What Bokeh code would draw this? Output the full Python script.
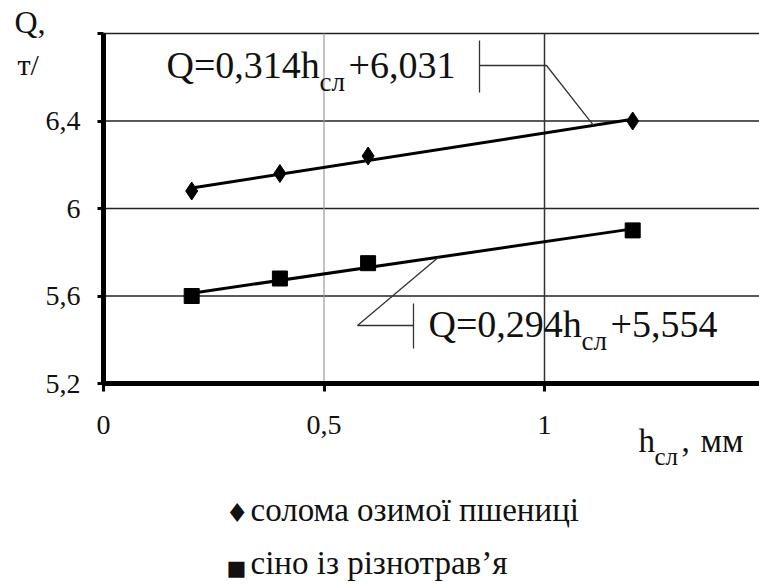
from bokeh.plotting import figure
from bokeh.models import Label, FixedTicker, Range1d
from bokeh.embed import file_html
from bokeh.resources import INLINE

# ---- data ----
h_values = [0.2, 0.4, 0.6, 1.2]
wheat_q = [6.08, 6.16, 6.24, 6.40]
hay_q = [5.60, 5.68, 5.75, 5.90]
wheat_fit = (0.314, 6.031)
hay_fit = (0.294, 5.554)
fit_span = [0.2, 1.2]
x_ticks = [0, 0.5, 1]
x_tick_labels = ["0", "0,5", "1"]
y_ticks = [5.2, 5.6, 6.0, 6.4, 6.8]
y_tick_labels = ["5,2", "5,6", "6", "6,4", ""]
h_grid = [5.6, 6.0, 6.4, 6.8]
legend_labels = ["солома озимої пшениці", "сіно із різнотрав’я"]

FONT = "Liberation Serif"
INK = "#111111"

W, H = 759, 585
# plot area geometry in page pixels: x=0 at 103px, 441 px per unit; y=5.2 at 383px, 218.75 px per unit
X0, XSCALE = 103.0, 441.0
YB, YSCALE = 383.0, 350.0 / 1.6


def X(px):
    return (px - X0) / XSCALE


def Y(py):
    return 5.2 + (YB - py) / YSCALE


XMIN, XMAX = 0.0, X(W)
YMIN, YMAX = 5.2, 6.8

p = figure(width=W, height=H, output_backend="svg", toolbar_location=None,
           x_range=Range1d(X(0), X(W)), y_range=Range1d(Y(H), Y(0)),
           min_border=0, min_border_left=0, min_border_right=0,
           min_border_top=0, min_border_bottom=0)
p.outline_line_color = None
p.background_fill_color = "white"
p.border_fill_color = "white"
p.xgrid.visible = False
p.ygrid.visible = False

# grid lines (drawn inside the plot area only)
p.segment(x0=[XMIN] * len(h_grid), y0=h_grid, x1=[XMAX] * len(h_grid), y1=h_grid,
          line_color="#222222", line_width=1.5)
p.segment(x0=[0.5], y0=[YMIN], x1=[0.5], y1=[YMAX], line_color="#9a9a9a", line_width=1.2)
p.segment(x0=[1.0], y0=[YMIN], x1=[1.0], y1=[YMAX], line_color="#333333", line_width=1.5)

# axes at fixed locations
xa, ya = p.xaxis[0], p.yaxis[0]
for ax in (xa, ya):
    ax.axis_line_width = 5
    ax.axis_line_color = "black"
    ax.major_tick_line_width = 3
    ax.major_tick_line_color = "black"
    ax.minor_tick_line_color = None
    ax.major_tick_in = 0
    ax.major_label_text_font = FONT
    ax.major_label_text_color = INK

xa.fixed_location = YMIN
xa.bounds = (XMIN, XMAX)
xa.ticker = FixedTicker(ticks=x_ticks)
xa.major_label_overrides = dict(zip(x_ticks, x_tick_labels))
xa.major_tick_out = 8
xa.major_label_standoff = 24
xa.major_label_text_font_size = "28px"

ya.fixed_location = XMIN
ya.bounds = (YMIN, YMAX)
ya.ticker = FixedTicker(ticks=y_ticks)
ya.major_label_overrides = dict(zip(y_ticks, y_tick_labels))
ya.major_tick_out = 6
ya.major_label_standoff = 17
ya.major_label_text_font_size = "28px"

# trend lines
wq = [wheat_fit[0] * h + wheat_fit[1] for h in fit_span]
hq = [hay_fit[0] * h + hay_fit[1] for h in fit_span]
p.line(fit_span, wq, line_width=3, line_color="black")
p.line(fit_span, hq, line_width=3, line_color="black")

# markers
p.scatter(h_values, wheat_q, marker="diamond", size=18, color="black")
p.scatter(h_values, hay_q, marker="square", size=15, color="black")

# leader lines for equations
LEAD = dict(line_width=1.3, line_color="#333333")
hw = X(593)
p.line([X(479), X(479)], [Y(40), Y(92)], **LEAD)
p.line([X(479), X(546), hw], [Y(65), Y(65), wheat_fit[0] * hw + wheat_fit[1]], **LEAD)
hh = X(438)
p.line([X(413), X(413)], [Y(303), Y(348)], **LEAD)
p.line([X(413), X(357), hh], [Y(325), Y(325), hay_fit[0] * hh + hay_fit[1]], **LEAD)

BASE_K = 0.37  # empirical baseline correction (fraction of font size)


def L(px, py, text, size, color=INK, font=FONT):
    p.add_layout(Label(x=X(px), y=Y(py - BASE_K * size), text=text, text_font=font,
                       text_font_size=f"{size}px", text_baseline="alphabetic",
                       text_align="left", text_color=color))


# equation 1
L(166, 79, "Q=0,314h", 38)
L(319, 91, "сл", 27)
L(348, 79, "+6,031", 38)
# equation 2
L(428, 338, "Q=0,294h", 38)
L(581, 350, "сл", 27)
L(610, 338, "+5,554", 38)

# axis titles
L(14, 33, "Q,", 32)
L(17, 75, "т/", 30)
L(638, 453, "h", 33)
L(654, 465, "сл", 25)
L(681, 453, ",", 33)
L(700, 453, "мм", 34)

# legend
L(225, 522, "♦", 26, font="DejaVu Sans")
L(250, 522, legend_labels[0], 33)
L(226, 575, "■", 21, font="DejaVu Sans")
L(250, 575, legend_labels[1], 33)

open("out.html", "w").write(file_html(p, INLINE))
